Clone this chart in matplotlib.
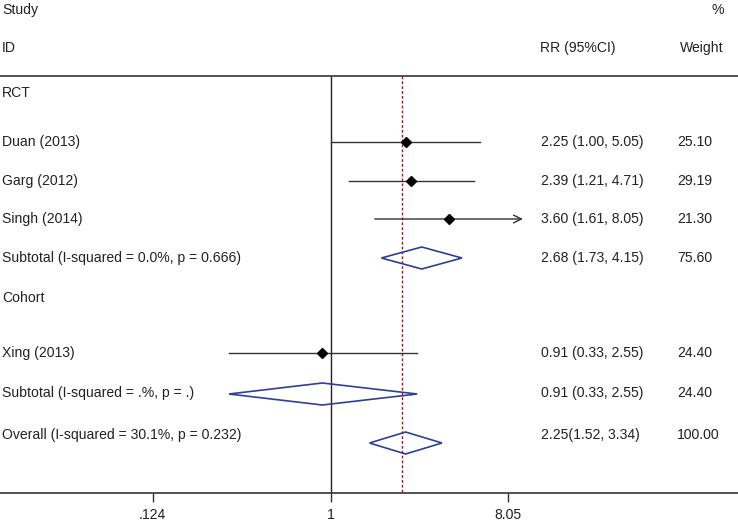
import math
import matplotlib.pyplot as plt
from matplotlib.patches import Polygon

# study rows (label, RR, lower, upper, weight)
studies = ["Duan (2013)", "Garg (2012)", "Singh (2014)", "Xing (2013)"]
rr = [2.25, 2.39, 3.60, 0.91]
ci_low = [1.00, 1.21, 1.61, 0.33]
ci_high = [5.05, 4.71, 8.05, 2.55]
clipped = [False, False, True, False]
weights = ["25.10", "29.19", "21.30", "24.40"]

# pooled rows
pooled_labels = ["Subtotal (I-squared = 0.0%, p = 0.666)",
                 "Subtotal (I-squared = .%, p = .)",
                 "Overall (I-squared = 30.1%, p = 0.232)"]
pooled_rr = [2.68, 0.91, 2.25]
pooled_low = [1.73, 0.33, 1.52]
pooled_high = [4.15, 2.55, 3.34]
pooled_weights = ["75.60", "24.40", "100.00"]
pooled_text = ["2.68 (1.73, 4.15)", "0.91 (0.33, 2.55)", "2.25(1.52, 3.34)"]

groups = ["RCT", "Cohort"]
overall_line = 2.17
tick_vals = [0.144, 1, 6.87]
tick_labels = [".124", "1", "8.05"]

# layout (pixel rows, top = 0)
W, H = 738, 522
group_y = [93, 298]
study_y = [142, 181, 219, 353]
pooled_y = [258, 394, 443]
pooled_text_y = [258, 393, 435]
axis_y = 493
top_y = 76
x_one = 331
px_per_ln = 92.0

txt = "#222222"
blue = "#2e3f96"
plt.rcParams["font.family"] = ["Liberation Sans", "DejaVu Sans"]
fs = 10.1

fig = plt.figure(figsize=(W / 100, H / 100), dpi=100)

# text layer in pixel coordinates
at = fig.add_axes([0, 0, 1, 1])
at.set_xlim(0, W)
at.set_ylim(H, 0)
at.axis("off")

# forest layer, log scale
xmin = math.exp(-x_one / px_per_ln)
xmax = math.exp((W - x_one) / px_per_ln)
ax = fig.add_axes([0, (H - axis_y) / H, 1, axis_y / H])
ax.set_xscale("log")
ax.set_xlim(xmin, xmax)
ax.set_ylim(axis_y, 0)
ax.patch.set_alpha(0)
for s in ["top", "left", "right"]:
    ax.spines[s].set_visible(False)
ax.spines["bottom"].set_color("#333333")
ax.spines["bottom"].set_linewidth(1.2)
ax.set_yticks([])
ax.set_xticks(tick_vals)
ax.set_xticklabels(tick_labels, fontsize=fs, color=txt)
ax.xaxis.set_minor_locator(plt.NullLocator())
ax.tick_params(axis="x", direction="out", length=6.5, width=1, color="#333333", pad=4)

ax.axhline(top_y, color="#444444", lw=1.3)
ax.vlines(1, top_y, axis_y, color="#222222", lw=1)
ax.vlines(overall_line, top_y, axis_y, color="#a01818", lw=1, linestyles=(0, (2, 1.5)))

for i in range(len(studies)):
    y = study_y[i]
    if clipped[i]:
        ax.annotate("", xy=(ci_high[i], y), xytext=(ci_low[i], y),
                    arrowprops=dict(arrowstyle="->", color="#333333", lw=1,
                                    shrinkA=0, shrinkB=0, mutation_scale=14))
    else:
        ax.plot([ci_low[i], ci_high[i]], [y, y], color="#333333", lw=1)
    ax.plot(rr[i], y, marker="D", color="black", markersize=5.5, zorder=3)

for i in range(len(pooled_rr)):
    y = pooled_y[i]
    h = 11
    pts = [(pooled_low[i], y), (pooled_rr[i], y - h), (pooled_high[i], y), (pooled_rr[i], y + h)]
    ax.add_patch(Polygon(pts, closed=True, fill=False, edgecolor=blue, lw=1.2, zorder=3))

# headers
at.text(2, 10, "Study", fontsize=fs, color=txt, va="center")
at.text(2, 48, "ID", fontsize=fs, color=txt, va="center")
at.text(540, 48, "RR (95%CI)", fontsize=fs, color=txt, va="center")
at.text(680, 48, "Weight", fontsize=fs, color=txt, va="center")
at.text(712, 10, "%", fontsize=fs, color=txt, va="center")

for g, y in zip(groups, group_y):
    at.text(2, y, g, fontsize=fs, color=txt, va="center")

for i in range(len(studies)):
    y = study_y[i]
    at.text(2, y, studies[i], fontsize=fs, color=txt, va="center")
    at.text(541, y, "%.2f (%.2f, %.2f)" % (rr[i], ci_low[i], ci_high[i]),
            fontsize=fs, color=txt, va="center")
    at.text(677, y, weights[i], fontsize=fs, color=txt, va="center")

for i in range(len(pooled_rr)):
    y = pooled_text_y[i]
    at.text(2, y, pooled_labels[i], fontsize=fs, color=txt, va="center")
    at.text(541, y, pooled_text[i], fontsize=fs, color=txt, va="center")
    at.text(677, y, pooled_weights[i], fontsize=fs, color=txt, va="center")

fig.savefig("out.png", dpi=100)
